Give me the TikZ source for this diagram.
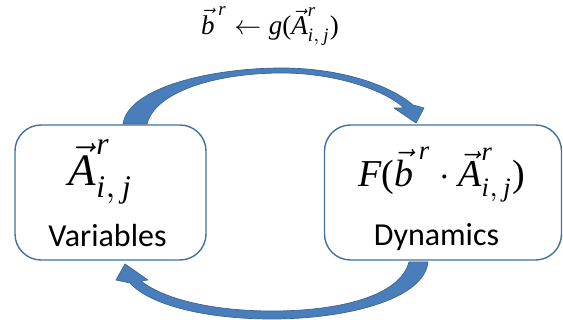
\documentclass[tikz,border=0pt]{standalone}
\usepackage{fontspec}
\setmainfont{Carlito}
\newfontfamily\tnr{Liberation Serif}
\usepackage{amsmath}
\newcommand\mvar[1]{\text{\tnr\itshape #1}}
\newcommand\mup[1]{\text{\tnr #1}}
\definecolor{boxline}{HTML}{41719C}
\definecolor{arrfill}{HTML}{4A7EBB}
\definecolor{arrline}{HTML}{3A6595}
\tikzset{
  box/.style={draw=boxline, line width=1.4pt, rounded corners=26pt, fill=white, minimum height=135pt, inner sep=0pt},
  bigarrow/.style={fill=arrfill, draw=arrline, line width=0.7pt, line join=round},
  lbl/.style={anchor=base, inner sep=0pt, font=\fontsize{32}{38}\selectfont},
  formula/.style={anchor=base, inner sep=0pt},
}
\begin{document}
\begin{tikzpicture}[x=1pt,y=-1pt]
\useasboundingbox (0,0) rectangle (563,320);
\node[box, minimum width=191pt] (var) at (110.5,192.5) {};
\node[box, minimum width=237pt] (dyn) at (443,192.5) {};
\node[formula] (vform) at (101,186) {\scalebox{4.5}{$\vec{\mvar{A}}^{\mvar{r}}_{\mvar{i},\,\mvar{j}}$}};
\node[lbl] (vlab) at (107.5,247) {Variables};
\node[formula] (dform) at (442,187) {\scalebox{3.8}{$\mvar{F}\mup{(}\vec{\mvar{b}}^{\,\mvar{r}}\cdot\vec{\mvar{A}}^{\mvar{r}}_{\mvar{i},\,\mvar{j}}\mup{)}$}};
\node[lbl] (dlab) at (436.5,246) {Dynamics};
\node[formula] (top) at (270,35) {\scalebox{2.7}{$\vec{\mvar{b}}^{\,\mvar{r}}\leftarrow \mvar{g}\mup{(}\vec{\mvar{A}}^{\mvar{r}}_{\mvar{i},\,\mvar{j}}\mup{)}$}};
% top curved arrow (Variables -> Dynamics)
\path[bigarrow] (123,124) .. controls (128,88) and (210,68) .. (282,68)
  .. controls (340,68) and (390,85) .. (413,105)
  -- (424,108) -- (416,123) -- (394,108) -- (404,108)
  .. controls (385,90) and (335,73) .. (282,73)
  .. controls (215,73) and (155,92) .. (147,124) -- cycle;
% bottom curved arrow (Dynamics -> Variables)
\path[bigarrow] (428,262) .. controls (424,300) and (345,319) .. (272,319)
  .. controls (205,319) and (150,305) .. (130,283)
  -- (116,280) -- (125,264) -- (148,280) -- (141,281)
  .. controls (165,300) and (215,311) .. (272,311)
  .. controls (340,311) and (400,296) .. (409,262) -- cycle;
\end{tikzpicture}
\end{document}
